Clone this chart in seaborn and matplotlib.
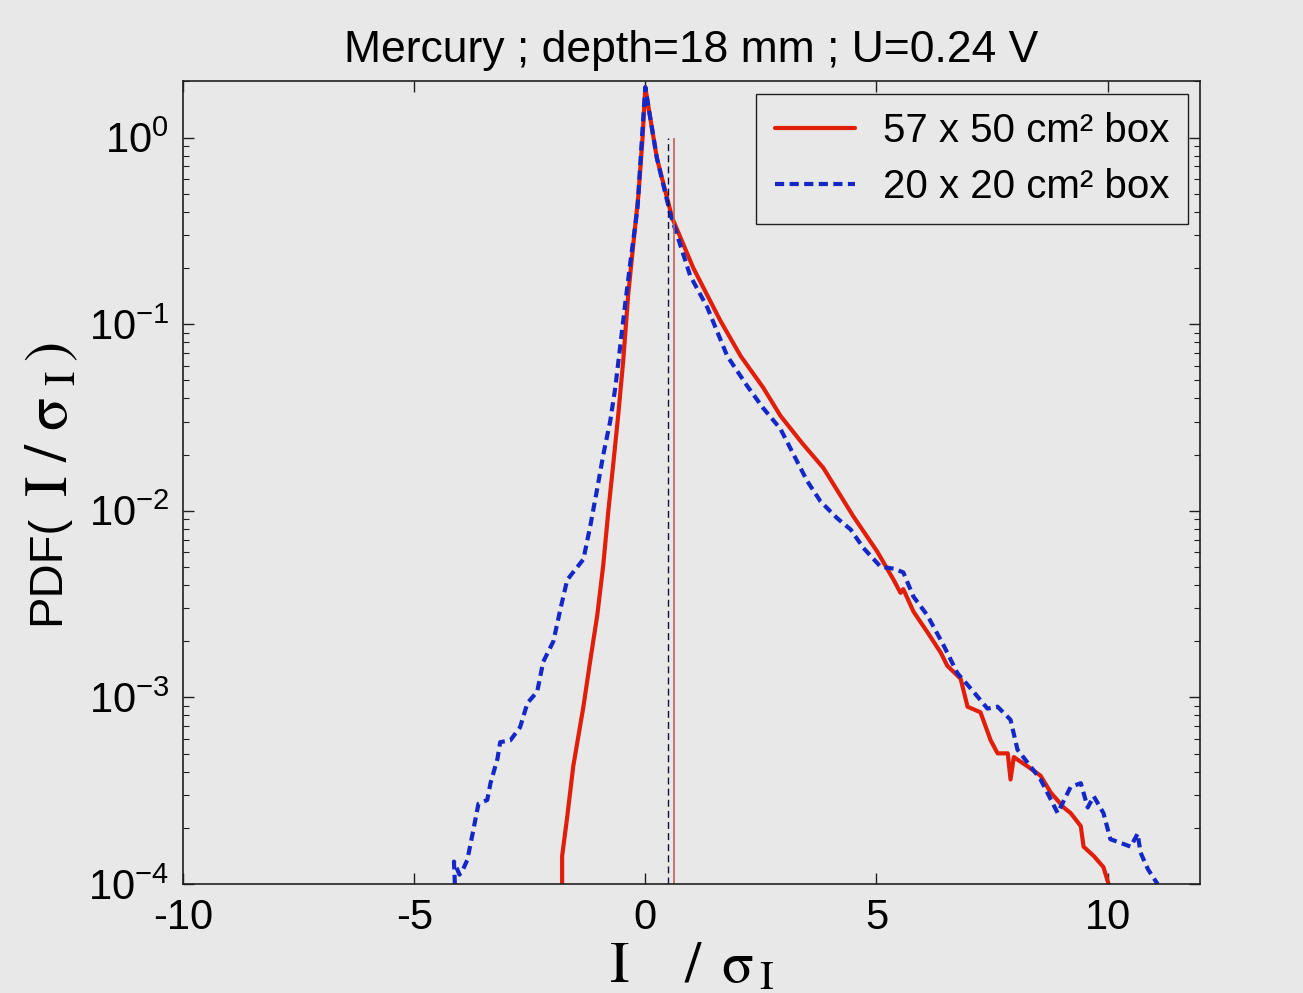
import numpy as np
import pandas as pd
import matplotlib
matplotlib.use("Agg")
import matplotlib.pyplot as plt
import seaborn as sns

# values (x = I / sigma_I, y = log10 of the PDF)
big_x = [-1.80, -1.80, -1.69, -1.56, -1.34, -1.19, -1.04, -0.91, -0.80, -0.69,
         -0.58, -0.48, -0.37, -0.26, -0.15, -0.06, 0.00, 0.07, 0.25, 0.58,
         1.04, 1.62, 2.06, 2.55, 2.92, 3.40, 3.85, 4.50, 5.02, 5.37,
         5.52, 5.58, 5.80, 6.10, 6.39, 6.53, 6.82, 6.97, 7.25, 7.47,
         7.62, 7.84, 7.90, 7.97, 8.27, 8.55, 8.77, 9.05, 9.20, 9.42,
         9.48, 9.70, 9.91, 10.02]
big_logpdf = [-4.00, -3.85, -3.64, -3.37, -3.05, -2.80, -2.56, -2.29, -2.00, -1.74,
              -1.47, -1.20, -0.84, -0.57, -0.31, 0.00, 0.27, 0.16, -0.11, -0.43,
              -0.70, -0.98, -1.17, -1.34, -1.49, -1.64, -1.77, -2.03, -2.22, -2.37,
              -2.44, -2.42, -2.54, -2.65, -2.76, -2.83, -2.90, -3.05, -3.08, -3.23,
              -3.30, -3.30, -3.44, -3.32, -3.37, -3.42, -3.51, -3.59, -3.62, -3.69,
              -3.80, -3.85, -3.91, -4.00]

small_x = [-4.12, -4.14, -4.02, -3.94, -3.85, -3.72, -3.61, -3.42, -3.35, -3.20,
           -3.14, -2.92, -2.71, -2.55, -2.34, -2.21, -1.99, -1.84, -1.69, -1.34,
           -1.19, -1.04, -0.91, -0.76, -0.65, -0.54, -0.43, -0.32, -0.17, -0.06,
           0.00, 0.07, 0.25, 0.54, 0.97, 1.34, 1.77, 2.20, 2.55, 2.92,
           3.21, 3.50, 3.79, 4.15, 4.44, 4.72, 5.09, 5.37, 5.58, 5.80,
           6.10, 6.45, 6.75, 7.10, 7.40, 7.62, 7.90, 8.05, 8.27, 8.55,
           8.92, 9.20, 9.42, 9.57, 9.70, 9.91, 10.06, 10.28, 10.50, 10.65,
           10.71, 10.87, 11.08]
small_logpdf = [-4.00, -3.88, -3.95, -3.92, -3.87, -3.71, -3.57, -3.55, -3.46, -3.33,
                -3.24, -3.23, -3.16, -3.03, -2.97, -2.81, -2.70, -2.53, -2.37, -2.26,
                -2.08, -1.88, -1.70, -1.52, -1.34, -1.11, -0.88, -0.66, -0.38, 0.05,
                0.27, 0.16, -0.11, -0.41, -0.74, -0.91, -1.17, -1.33, -1.45, -1.56,
                -1.70, -1.84, -1.95, -2.04, -2.10, -2.20, -2.30, -2.31, -2.33, -2.46,
                -2.56, -2.72, -2.87, -2.97, -3.06, -3.05, -3.12, -3.28, -3.35, -3.44,
                -3.62, -3.48, -3.46, -3.59, -3.53, -3.62, -3.76, -3.78, -3.80, -3.73,
                -3.83, -3.92, -4.00]

# mean markers (thin vertical lines)
big_mean = 0.61
small_mean = 0.48

labels = ["57 x 50 cm\u00b2 box", "20 x 20 cm\u00b2 box"]
title = "Mercury ; depth=18 mm ; U=0.24 V"

bg = "#e8e8e8"
red = "#e01e0a"
blue = "#1428c8"

sns.set_style("ticks")
plt.rcParams["font.family"] = ["Liberation Sans", "DejaVu Sans"]
plt.rcParams["lines.dashed_pattern"] = [2.2, 1.3]
plt.rcParams["axes.unicode_minus"] = False
plt.rcParams["text.color"] = "black"
plt.rcParams["axes.labelcolor"] = "black"

big = pd.DataFrame({"x": big_x, "pdf": 10 ** np.array(big_logpdf)})
small = pd.DataFrame({"x": small_x, "pdf": 10 ** np.array(small_logpdf)})

fig = plt.figure(figsize=(13.03, 9.93), dpi=100, facecolor=bg)
ax = fig.add_axes([0.1405, 0.1098, 0.7805, 0.8082])
ax.set_facecolor(bg)

sns.lineplot(data=big, x="x", y="pdf", ax=ax, color=red, lw=3.0,
             sort=False, estimator=None, label=labels[0])
sns.lineplot(data=small, x="x", y="pdf", ax=ax, color=blue, lw=3.0,
             linestyle="--", sort=False, estimator=None, label=labels[1])

ax.vlines(big_mean, 1e-4, 1.0, color="#c06050", lw=1.2)
ax.vlines(small_mean, 1e-4, 1.0, color="#101040", lw=1.0, linestyles=(0, (5, 3)))

ax.set_yscale("log")
ax.set_xlim(-10, 12)
ax.set_ylim(1e-4, 2.0)
ax.set_xticks([-10, -5, 0, 5, 10])
ax.set_yticks([1e-4, 1e-3, 1e-2, 1e-1, 1e0])

for s in ax.spines.values():
    s.set_color("#202020")
    s.set_linewidth(1.2)
ax.tick_params(which="both", direction="in", top=True, right=True, colors="#202020")
ax.tick_params(which="major", length=8, width=1.0, labelsize=30, pad=10)
ax.tick_params(which="minor", length=4, width=0.8)
ax.tick_params(axis="x", which="minor", bottom=False, top=False)
for t in ax.get_xticklabels() + ax.get_yticklabels():
    t.set_color("black")

ax.set_title(title, fontsize=32, pad=14)
ax.set_xlabel(r"$\mathrm{I}\ \ \ \ /\ \,\mathrm{\sigma}_{\,\mathrm{I}}$", fontsize=42,
              math_fontfamily="stix", labelpad=2)
ax.set_ylabel("")

# y label: sans "PDF(" followed by a larger serif part, as in the original
fig.text(0.036, 0.426, "PDF(", rotation=90, fontsize=34, ha="center", va="center")
fig.text(0.040, 0.578, r"$\mathrm{I}\ /\ \mathrm{\sigma}_{\ \mathrm{I}}\,)$", rotation=90,
         fontsize=44, math_fontfamily="stix", ha="center", va="center")

leg = ax.legend(loc="upper right", fontsize=29, frameon=True, fancybox=False,
                framealpha=1.0, facecolor=bg, edgecolor="#202020",
                handlelength=2.0, handletextpad=0.7, labelspacing=0.45,
                borderpad=0.45, borderaxespad=0.3)
leg.get_frame().set_linewidth(1.0)

fig.savefig("out.png", dpi=100, facecolor=bg)
